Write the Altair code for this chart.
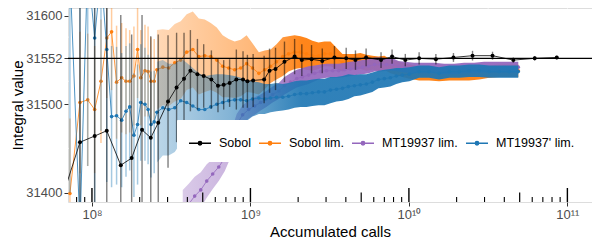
import altair as alt
import pandas as pd

SERIES = ["Sobol", "Sobol lim.", "MT19937 lim.", "MT19937' lim."]
COLORS = ["#000000", "#FF7F0E", "#9467BD", "#1F77B4"]

# ---- Sobol (black) ----
SOBOL_X = [6.0e7, 8.4e7, 1.04e8, 1.24e8, 1.52e8, 1.78e8, 2.07e8, 2.35e8, 2.62e8, 3.02e8,
           3.42e8, 3.81e8, 4.18e8, 4.63e8, 5.07e8, 5.67e8, 6.24e8, 6.78e8, 7.39e8, 8.15e8,
           8.98e8, 9.57e8, 1.04e9, 1.22e9, 1.32e9, 1.44e9, 1.64e9, 1.90e9, 2.11e9, 2.43e9,
           2.84e9, 3.39e9, 4.02e9, 4.60e9, 5.37e9, 6.67e9, 7.83e9, 9.49e9, 1.16e10, 1.48e10,
           1.91e10, 2.52e10, 3.37e10, 4.56e10, 6.22e10, 8.57e10]
SOBOL_Y = [31375, 31457, 31464, 31470, 31431, 31439, 31471, 31462, 31479, 31503,
           31519, 31529, 31538, 31534, 31532, 31528, 31521, 31522, 31524, 31528,
           31528, 31526, 31527, 31528, 31538, 31540, 31548, 31554, 31550, 31551,
           31549, 31553, 31552, 31550, 31553, 31550, 31554, 31550, 31552, 31551,
           31553, 31555, 31555, 31550, 31552, 31553]
SOBOL_ERR = [250, 230, 210, 190, 170, 140, 130, 115, 100, 75,
             62, 52, 46, 40, 36, 33, 30, 28, 27, 34,
             32, 30, 30, 27, 25, 24, 23, 20, 18, 16,
             14, 13, 12, 11, 10, 9, 8, 7, 7, 6,
             5, 5.5, 4.5, 3, 2.5, 2]

# ---- early, well separated points of the limited series ----
LIM_SPARSE_X = [7.26e7, 8.4e7, 9.4e7, 1.04e8, 1.14e8, 1.24e8, 1.33e8, 1.43e8, 1.54e8,
                1.64e8, 1.73e8, 1.84e8, 1.94e8, 2.03e8, 2.16e8, 2.26e8, 2.36e8, 2.47e8]
SOBOL_LIM_SPARSE_Y = [31399, 31502, 31505, 31494, 31526, 31575, 31582, 31525, 31530,
                      31526, 31526, 31532, 31562, 31530, 31538, 31537, 31526, 31526]
SOBOL_LIM_SPARSE_ERR = [85, 80, 75, 72, 70, 68, 66, 64, 62, 60, 58, 56, 55, 54, 52, 51, 50, 48]
MTP_SPARSE_Y = [31650, 31360, 31660, 31575, 31650, 31562, 31486, 31487, 31482,
                31492, 31497, 31465, 31477, 31502, 31500, 31494, 31477, 31480]
MTP_SPARSE_ERR = [250, 250, 230, 200, 180, 150, 80, 78, 76, 74, 72, 70, 68, 66, 64, 62, 60, 58]

# ---- dense part (read as a band: centre and half width) ----
LIM_DENSE_X = [2.57e8, 2.80e8, 3.05e8, 3.33e8, 3.63e8, 3.96e8, 4.33e8, 4.72e8, 5.15e8, 5.62e8,
               6.13e8, 6.68e8, 7.29e8, 7.95e8, 8.68e8, 9.46e8, 1.03e9, 1.13e9, 1.23e9, 1.34e9,
               1.46e9, 1.60e9, 1.74e9, 1.90e9, 2.07e9, 2.26e9, 2.46e9, 2.69e9, 2.93e9, 3.20e9,
               3.49e9, 3.81e9, 4.15e9, 4.53e9, 4.94e9, 5.39e9, 5.88e9, 6.42e9, 7.00e9, 7.64e9,
               8.33e9, 9.09e9, 1.006e10, 1.16e10, 1.34e10, 1.55e10, 1.80e10, 2.08e10, 2.40e10,
               2.78e10, 3.21e10, 3.71e10, 4.29e10, 4.9e10]
SOBOL_LIM_DENSE_Y = [31539, 31542, 31541, 31547, 31550, 31559, 31562, 31554, 31555, 31554,
                     31550, 31543, 31541, 31539, 31541, 31546, 31541, 31535, 31539, 31543,
                     31548, 31554, 31557, 31559, 31559, 31557, 31555, 31555, 31557, 31557,
                     31552, 31547, 31548, 31548, 31549, 31547, 31547, 31546, 31547, 31543,
                     31541, 31539, 31537, 31535, 31534, 31533, 31534, 31534, 31534,
                     31535, 31537, 31538, 31538, 31538]
SOBOL_LIM_DENSE_ERR = [45, 43, 43, 44, 44, 43, 43, 43, 41, 38,
                       37, 35, 33, 32, 32, 32, 28, 24, 22, 19,
                       20, 22, 20, 19, 18, 18, 17, 15, 14, 14,
                       12, 10, 9, 9, 9, 9, 8, 8, 8, 8,
                       8, 8, 8, 8, 7, 7, 7, 7, 7,
                       7, 7, 7, 7, 7]
MTP_DENSE_Y = [31491, 31496, 31494, 31496, 31504, 31502, 31498, 31494, 31494, 31497,
               31500, 31502, 31504, 31505, 31505, 31504, 31506, 31507, 31506, 31507,
               31508, 31508, 31509, 31511, 31512, 31512, 31513, 31514, 31514, 31516,
               31517, 31518, 31520, 31521, 31522, 31523, 31525, 31528, 31529, 31530,
               31532, 31533, 31534, 31537, 31537, 31535, 31537, 31537, 31538,
               31538, 31537, 31537, 31537, 31537]
MTP_DENSE_ERR = [57, 54, 52, 50, 48, 45, 43, 41, 38, 36,
                 34, 32, 29, 27, 25, 23, 20, 18, 17, 16,
                 16, 15, 15, 15, 15, 15, 15, 15, 15, 15,
                 14, 14, 14, 12, 12, 11, 11, 10, 10, 10,
                 9, 8, 8, 7, 7, 7, 7, 7, 7,
                 7, 7, 7, 7, 7]

MT_X = [3.74e8, 4.08e8, 4.45e8, 4.86e8, 5.30e8, 5.78e8, 6.31e8, 6.88e8, 7.51e8, 8.19e8,
        8.93e8, 9.74e8, 1.063e9, 1.16e9, 1.26e9, 1.38e9, 1.51e9, 1.64e9, 1.79e9, 1.96e9,
        2.13e9, 2.33e9, 2.54e9, 2.77e9, 3.02e9, 3.30e9, 3.60e9, 3.93e9, 4.28e9, 4.67e9,
        5.10e9, 5.56e9, 6.07e9, 6.62e9, 7.22e9, 7.88e9, 8.60e9, 9.38e9, 1.08e10, 1.25e10,
        1.44e10, 1.67e10, 1.93e10, 2.23e10, 2.58e10, 2.98e10, 3.45e10, 3.99e10, 4.61e10, 4.9e10]
MT_Y = [31378, 31387, 31396, 31403, 31413, 31421, 31429, 31439, 31454, 31477,
        31488, 31494, 31498, 31502, 31506, 31511, 31515, 31521, 31525, 31529,
        31531, 31533, 31535, 31537, 31538, 31538, 31538, 31539, 31540, 31541,
        31542, 31543, 31545, 31545, 31545, 31545, 31543, 31542, 31541, 31541,
        31541, 31540, 31540, 31541, 31541, 31542, 31542, 31542, 31542, 31542]
MT_ERR = [25, 23, 22, 20, 19, 17, 16, 15, 14, 12,
          11, 10, 10, 9, 9, 9, 9, 10, 10, 10,
          10, 10, 9, 8, 8, 8, 8, 8, 8, 8,
          8, 8, 8, 8, 7, 7, 6, 6, 6, 6,
          6, 6, 6, 6, 6, 6, 6, 6, 6, 6]

# ---- axes / guides ----
X_DOMAIN = [7.06e7, 1.43e11]
Y_DOMAIN = [31389.3, 31609]
X_TICKS = [1e8, 1e9, 1e10, 1e11]
Y_TICKS = [31400, 31500, 31552, 31600]
X_MINOR = [10 ** 8.5, 10 ** 9.5, 10 ** 10.5]
Y_MINOR = [31450, 31526, 31576]
REFERENCE = [31552]
LOGTICK_DECADES = [7, 8, 9, 10, 11]
LOGTICK_MULT = [1, 2, 3, 4, 5, 6, 7, 8, 9]

W, H = 524, 194
FONT = "Liberation Sans"

XS = alt.Scale(type="log", domain=X_DOMAIN, nice=False)
YS = alt.Scale(domain=Y_DOMAIN, nice=False, zero=False)
CS = alt.Scale(domain=SERIES, range=COLORS)

X_AXIS = alt.Axis(values=X_TICKS, title="Accumulated calls",
                  labelExpr="datum.value < 3e8 ? '10⁸' : datum.value < 3e9 ? '10⁹' : datum.value < 3e10 ? '10¹⁰' : '10¹¹'",
                  grid=True, gridColor="white", gridWidth=1.1, domain=False,
                  tickColor="#333333", tickSize=4, tickWidth=1,
                  labelColor="#4D4D4D", labelFontSize=13, labelPadding=2, labelFont=FONT,
                  titleFontSize=15, titleFontWeight="normal", titleColor="black", titlePadding=3,
                  titleFont=FONT)
Y_AXIS = alt.Axis(values=Y_TICKS, format="d", title="Integral value",
                  grid=True, gridColor="white", gridWidth=1.1, domain=False,
                  tickColor="#333333", tickSize=4, tickWidth=1,
                  labelColor="#4D4D4D", labelFontSize=13, labelPadding=2, labelFont=FONT,
                  titleFontSize=15, titleFontWeight="normal", titleColor="black", titlePadding=0,
                  titleFont=FONT)

LEGEND_PATH = "M-1,0L1,0M0.16,0A0.16,0.16,0,1,1,-0.16,0A0.16,0.16,0,1,1,0.16,0"
LEGEND = alt.Legend(orient="none", legendX=109, legendY=112, direction="horizontal", columns=4,
                    title=None, fillColor="#FFFFFF", strokeColor="#FFFFFF", padding=11,
                    symbolType=LEGEND_PATH, zindex=5,
                    symbolSize=484, symbolStrokeWidth=1.3, symbolOpacity=1,
                    labelFontSize=12.5, labelOffset=7, columnPadding=5, labelColor="black",
                    labelFont=FONT)


def xenc(f):
    return alt.X(f"{f}:Q", scale=XS, axis=X_AXIS)


def yenc(f):
    return alt.Y(f"{f}:Q", scale=YS, axis=Y_AXIS)


def col():
    return alt.Color("series:N", scale=CS, legend=LEGEND)


def frame(name, xs, ys, es):
    return pd.DataFrame({"series": name, "x": xs, "y": ys, "err": es})


def rgba(hexc, a):
    h = hexc.lstrip("#")
    return f"rgba({int(h[0:2], 16)},{int(h[2:4], 16)},{int(h[4:6], 16)},{a})"


def gradient(hexc, stops):
    return alt.Gradient(gradient="linear", x1=0, x2=1, y1=0, y2=0,
                        stops=[alt.GradientStop(offset=o, color=rgba(hexc, a)) for o, a in stops])


def errorbars(df, width, opacity):
    return (alt.Chart(df)
            .transform_calculate(lo="datum.y - datum.err", hi="datum.y + datum.err")
            .mark_rule(strokeWidth=width, opacity=opacity, clip=True)
            .encode(x=xenc("x"), y=yenc("lo"), y2="hi:Q", color=col()))


def band(df, hexc, stops):
    return (alt.Chart(df)
            .transform_calculate(lo="datum.y - datum.err", hi="datum.y + datum.err")
            .mark_area(clip=True, color=gradient(hexc, stops), line=False)
            .encode(x=xenc("x"), y=yenc("lo"), y2="hi:Q"))


def centre(df, size):
    ln = alt.Chart(df).mark_line(strokeWidth=0.8, clip=True).encode(
        x=xenc("x"), y=yenc("y"), color=col())
    pt = alt.Chart(df).mark_circle(size=size, opacity=1, clip=True).encode(
        x=xenc("x"), y=yenc("y"), color=col())
    return [ln, pt]


sobol = frame(SERIES[0], SOBOL_X, SOBOL_Y, SOBOL_ERR)
sl_sp = frame(SERIES[1], LIM_SPARSE_X, SOBOL_LIM_SPARSE_Y, SOBOL_LIM_SPARSE_ERR)
sl_de = frame(SERIES[1], LIM_DENSE_X, SOBOL_LIM_DENSE_Y, SOBOL_LIM_DENSE_ERR)
mt = frame(SERIES[2], MT_X, MT_Y, MT_ERR)
mp_sp = frame(SERIES[3], LIM_SPARSE_X, MTP_SPARSE_Y, MTP_SPARSE_ERR)
mp_de = frame(SERIES[3], LIM_DENSE_X, MTP_DENSE_Y, MTP_DENSE_ERR)

layers = []
# minor grid
layers.append(alt.Chart(pd.DataFrame({"x": X_MINOR})).mark_rule(color="white", strokeWidth=0.55)
              .encode(x=xenc("x")))
layers.append(alt.Chart(pd.DataFrame({"y": Y_MINOR})).mark_rule(color="white", strokeWidth=0.55)
              .encode(y=yenc("y")))

# Sobol lim. (orange)
layers.append(errorbars(sl_sp, 1.5, 0.4))
layers.append(band(sl_de, COLORS[1], [(0, 0.3), (0.26, 0.55), (0.4, 0.95), (1, 0.95)]))
layers += centre(pd.concat([sl_sp, sl_de]), 13)

# MT19937 lim. (purple)
layers.append(band(mt, COLORS[2], [(0, 0.35), (0.15, 0.5), (0.35, 0.92), (1, 0.95)]))
layers += centre(mt, 13)

# MT19937' lim. (blue)
layers.append(errorbars(mp_sp, 1.5, 0.4))
layers.append(band(mp_de, COLORS[3], [(0, 0.3), (0.2, 0.55), (0.4, 0.92), (1, 0.95)]))
layers += centre(pd.concat([mp_sp, mp_de]), 13)

# reference value
layers.append(alt.Chart(pd.DataFrame({"y": REFERENCE})).mark_rule(color="black", strokeWidth=1.2)
              .encode(y=yenc("y")))

# Sobol (black)
layers.append(errorbars(sobol, 1.4, 0.5))
layers += centre(sobol, 16)

# log ticks along the bottom
lt = pd.DataFrame([{"x": m * 10 ** d, "m": m} for d in LOGTICK_DECADES for m in LOGTICK_MULT])
lt = lt[(lt.x >= X_DOMAIN[0]) & (lt.x <= X_DOMAIN[1])]
for sel, length, sw in [(lt.m == 1, 14, 1.4), (lt.m == 5, 9.5, 1.2), ((lt.m != 1) & (lt.m != 5), 5, 1.1)]:
    layers.append(alt.Chart(lt[sel]).mark_rule(color="black", strokeWidth=sw)
                  .encode(x=xenc("x"), y=alt.value(H), y2=alt.value(H - length)))

chart = (alt.layer(*layers)
         .properties(width=W, height=H, padding={"left": 60, "top": 0, "right": 0, "bottom": 48},
                     autosize=alt.AutoSizeParams(type="none"), background="white")
         .configure_view(fill="#EBEBEB", stroke=None)
         .configure(font=FONT))

chart.save("out.html", embed_options={"renderer": "svg", "actions": False})
